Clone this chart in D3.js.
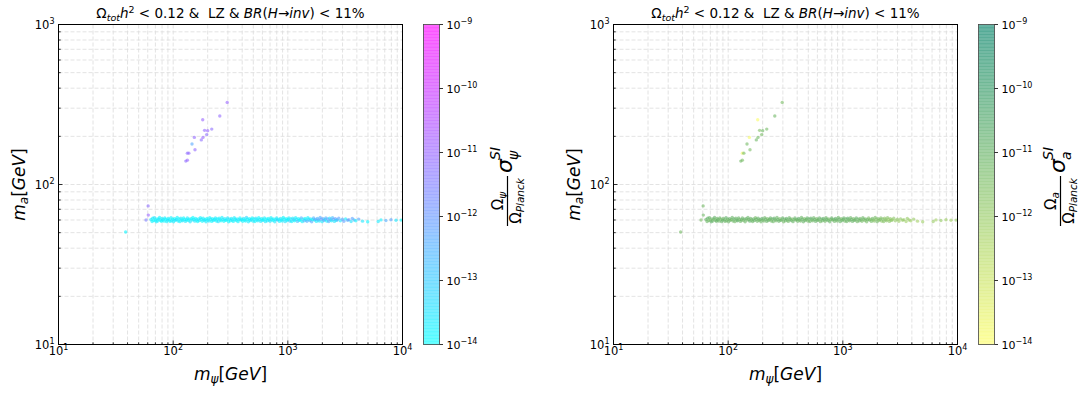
<!DOCTYPE html>
<html>
<head>
<meta charset="utf-8">
<script src="https://cdn.jsdelivr.net/npm/d3@7"></script>
<style>
body { margin: 0; background: #fff; }
text { font-family: "DejaVu Sans", sans-serif; fill: #000; }
</style>
</head>
<body>
<svg id="chart" width="1079" height="393"></svg>
<script>
// rows: [m_psi, m_a, log10 sigma_psi, log10 sigma_a]
var clusterPoints = [
  [296, 326, -11.0, -11.4],
  [255, 268, -11.1, -11.2],
  [181, 254, -11.0, -13.9],
  [217, 222, -11.2, -11.3],
  [188, 218, -11.1, -11.5],
  [200, 217, -11.0, -11.2],
  [196, 205, -11.2, -11.4],
  [153, 197, -11.1, -13.8],
  [182, 197, -11.0, -11.3],
  [176, 190, -11.2, -11.2],
  [146, 179, -12.3, -11.3],
  [155, 165, -11.1, -11.4],
  [133, 157, -11.2, -13.7],
  [137, 157, -11.1, -11.3],
  [129, 140, -11.2, -11.2],
  [133, 142, -11.0, -11.4]
];

var lowPoints = [
  [60.5, 73.5, -11.2, -11.3],
  [60.7, 64.4, -11.0, -11.2],
  [58.0, 60.0, -11.5, -11.4],
  [38.5, 50.5, -13.8, -11.3]
];

var bandPoints = [
  [64,60.4,-13.6,-11.0],[65.5,58.7,-13.8,-11.1],[66.3,61.6,-13.7,-10.9],[67.8,59.5,-13.9,-11.2],
  [68.6,62.1,-13.5,-11.0],[70,60.0,-13.8,-11.3],[71.2,58.4,-13.6,-10.8],[72.5,61.0,-13.9,-11.1],
  [73.4,59.2,-13.7,-11.0],[75,60.8,-13.5,-11.2],[76.1,62.3,-13.8,-10.9],[77.6,59.8,-13.6,-11.1],
  [78.9,58.9,-13.9,-11.0],[80.2,61.3,-13.7,-11.2],[81.5,60.2,-13.5,-10.9],[83.1,59.0,-13.8,-11.1],
  [84.6,61.8,-13.6,-11.0],[86,60.6,-13.9,-11.3],[87.7,58.6,-13.7,-11.0],[89.2,59.9,-13.5,-10.9],
  [90.8,61.4,-13.8,-11.2],[92.3,60.1,-13.6,-11.0],[94,58.8,-13.9,-11.1],[95.8,62.0,-13.7,-10.8],
  [97.3,59.4,-13.5,-11.0],[99,60.7,-13.8,-11.2],[101,58.5,-13.6,-11.1],[102.8,61.2,-13.9,-10.9],
  [104.5,59.7,-13.7,-11.0],[106.6,60.3,-13.4,-11.3],[108.5,62.2,-13.8,-11.0],[110.4,59.1,-13.6,-11.1],
  [112.6,60.9,-13.9,-10.9],[114.5,58.6,-13.7,-11.2],[116.8,61.5,-13.5,-11.0],[119,60.0,-13.8,-11.1],
  [121,59.3,-13.6,-10.8],[123.4,61.9,-13.9,-11.0],[125.7,60.5,-13.7,-11.2],[128,58.8,-13.5,-11.1],
  [130.5,60.2,-13.8,-10.9],[133,61.7,-13.6,-11.0],[135.4,59.6,-13.9,-11.3],[138,60.8,-13.7,-11.0],
  [140.6,58.4,-13.4,-11.1],[143.2,61.1,-13.8,-10.9],[146,59.9,-13.6,-11.2],[148.7,62.2,-13.9,-11.0],
  [151.5,60.4,-13.7,-11.1],[154.4,59.0,-13.5,-10.8],[157.2,61.4,-13.8,-11.0],[160.3,60.1,-13.6,-11.2],
  [163.3,58.7,-13.9,-11.1],[166.4,61.0,-13.7,-10.9],[169.5,59.5,-13.5,-11.0],[172.8,62.0,-13.8,-11.3],
  [176,60.6,-13.6,-11.0],[179.4,58.9,-13.9,-11.1],[182.7,61.6,-13.7,-10.9],[186.2,59.8,-13.4,-11.2],
  [189.8,60.3,-13.8,-11.0],[193.3,58.5,-13.6,-11.1],[197,61.3,-13.9,-10.8],[200.8,60.0,-13.7,-11.0],
  [204.6,59.2,-13.5,-11.2],[208.5,62.1,-13.8,-11.1],[212.4,60.7,-13.6,-10.9],[216.5,58.8,-13.9,-11.0],
  [220.6,61.1,-13.7,-11.3],[224.8,59.6,-13.5,-11.0],[229,60.4,-13.8,-11.1],[233.5,61.8,-13.6,-10.9],
  [238,59.1,-13.9,-11.2],[242.4,60.9,-13.7,-11.0],[247,58.6,-13.4,-11.1],[251.8,61.5,-13.8,-10.8],
  [256.5,60.2,-13.6,-11.0],[261.4,59.4,-13.9,-11.2],[266.4,62.3,-13.7,-11.1],[271.5,60.5,-13.5,-10.9],
  [276.7,58.9,-13.8,-11.0],[282,61.2,-13.6,-11.3],[287.4,59.7,-13.9,-11.0],[293,60.1,-13.7,-11.1],
  [298.6,61.9,-13.5,-10.9],[304.3,58.5,-13.8,-11.2],[310,60.8,-13.6,-11.0],[316,59.3,-13.9,-11.1],
  [322,61.4,-13.7,-10.8],[328.2,60.0,-13.4,-11.0],[334.5,58.8,-13.8,-11.2],[341,62.0,-13.6,-11.1],
  [347.5,60.6,-13.9,-10.9],[354,59.5,-13.7,-11.0],[360.8,61.0,-13.5,-11.3],[367.7,58.6,-13.8,-11.0],
  [374.7,60.3,-13.6,-11.1],[382,61.7,-13.9,-10.9],[389,59.9,-13.7,-11.2],[396.5,60.5,-13.5,-11.0],
  [404,58.9,-13.8,-11.1],[411.8,61.3,-13.6,-10.8],[419.7,60.1,-13.9,-11.0],[427.7,59.2,-13.7,-11.2],
  [435.8,62.2,-13.2,-11.1],[444,60.7,-13.8,-10.9],[452.6,58.5,-13.6,-11.0],[461.3,61.1,-13.9,-11.3],
  [470,59.6,-13.7,-11.0],[479,60.4,-13.5,-11.1],[488,61.8,-13.8,-10.9],[497.5,59.0,-13.6,-11.2],
  [507,60.9,-13.9,-11.0],[516.6,58.7,-13.7,-11.1],[526.5,61.6,-13.4,-10.8],[536.6,60.2,-13.8,-11.0],
  [547,59.4,-13.6,-11.2],[557.4,62.1,-13.9,-11.1],[568,60.5,-13.7,-10.9],[579,58.8,-13.5,-11.0],
  [590,61.2,-13.8,-11.3],[601.4,59.8,-13.6,-11.0],[613,60.0,-13.9,-11.1],[624.7,61.9,-13.7,-10.9],
  [636.6,58.6,-13.5,-11.2],[648.8,60.8,-13.8,-11.0],[661.2,59.3,-13.6,-11.1],[673.9,61.4,-13.9,-10.8],
  [686.8,60.1,-13.7,-11.0],[700,58.9,-13.4,-11.2],[713.4,62.0,-13.8,-11.1],[727,60.6,-13.6,-10.9],
  [741,59.5,-13.9,-11.0],[755,61.0,-13.7,-11.3],[769.6,58.5,-13.5,-11.0],[784.4,60.3,-13.8,-11.1],
  [799.4,61.7,-13.6,-10.9],[814.7,59.9,-12.6,-11.2],[830.3,60.5,-13.9,-11.0],[846.2,58.8,-13.7,-11.1],
  [862.4,61.3,-13.5,-10.8],[879,60.1,-13.8,-11.0],[895.8,59.2,-13.6,-11.2],[913,62.2,-13.9,-11.1],
  [930.4,60.7,-13.7,-10.9],[948.2,58.6,-13.4,-11.0],[966.4,61.1,-13.8,-11.3],[985,59.6,-13.6,-11.0],
  [1004,60.4,-13.9,-11.1],[1023,61.8,-13.7,-10.9],[1043,59.0,-13.0,-11.2],[1063,60.9,-13.5,-11.0],
  [1083,58.7,-13.8,-11.1],[1104,61.6,-13.6,-10.8],[1125,60.2,-12.8,-11.0],[1147,59.4,-13.9,-11.2],
  [1169,62.1,-13.7,-11.1],[1191,60.5,-13.5,-10.9],[1214,58.8,-12.7,-11.0],[1237,61.2,-13.8,-11.3],
  [1261,59.8,-13.6,-11.0],[1285,60.0,-13.9,-11.1],[1310,61.9,-12.5,-10.9],[1335,58.6,-13.7,-11.2],
  [1361,60.8,-13.4,-11.0],[1387,59.3,-12.6,-11.1],[1413,61.4,-13.8,-11.2],[1440,60.1,-13.6,-11.0],
  [1468,58.9,-12.4,-11.3],[1496,62.0,-13.7,-11.1],[1525,60.6,-13.5,-11.2],[1554,59.5,-12.7,-11.4],
  [1584,61.0,-13.6,-11.1],[1614,58.5,-12.3,-11.3],[1645,60.3,-13.9,-11.2],[1677,61.7,-12.5,-11.4],
  [1709,59.9,-13.4,-11.1],[1742,60.5,-12.2,-11.5],[1775,58.8,-13.7,-11.3],[1809,61.3,-12.6,-11.2],
  [1844,60.1,-12.1,-11.4],[1879,59.2,-13.5,-11.6],[1915,62.2,-12.4,-11.3],[1952,60.7,-12.0,-11.5],
  [1990,58.6,-13.6,-11.2],[2028,61.1,-12.3,-11.4],[2067,59.6,-12.2,-11.6],[2107,60.4,-13.3,-11.3],
  [2147,61.8,-12.5,-11.5],[2188,59.0,-13.8,-11.7],[2230,60.9,-12.1,-11.4],[2273,58.7,-12.4,-11.6],
  [2317,61.6,-13.5,-11.8],[2361,60.2,-12.2,-11.5],[2407,59.4,-13.7,-11.7],[2453,62.1,-12.6,-11.6],
  [2500,60.5,-12.3,-11.9],[2548,58.8,-13.4,-11.7],[2597,61.2,-12.0,-11.8],[2647,59.8,-13.6,-11.6],
  [2698,60.0,-12.4,-11.9],[2780,61.5,-12.2,-11.7],[2870,59.4,-13.5,-11.9],[2990,60.6,-12.3,-11.8],
  [3080,58.9,-12.1,-12.0],[3190,61.0,-13.6,-11.8],[3320,59.7,-12.5,-12.0],[3400,60.3,-12.0,-11.9],
  [3560,58.7,-13.4,-12.1],[3650,61.4,-12.2,-11.9],[3780,60.0,-12.6,-12.0],[3920,59.3,-13.7,-12.1],
  [4150,60.8,-12.3,-12.0],[4480,59.0,-13.5,-12.2],[4970,58.5,-13.8,-12.1],[6140,58.7,-13.6,-12.0],
  [6490,60.1,-13.7,-12.2],[7170,59.6,-12.4,-11.9],[7940,60.2,-12.2,-12.1],[8780,59.8,-13.5,-12.2],
  [9710,59.9,-13.9,-12.0]
];

var xMajor = [10, 100, 1000, 10000];
var yMajor = [10, 100, 1000];
var cbExps = [-14, -13, -12, -11, -10, -9];

var svg = d3.select('#chart');
var top0 = 24.5, bot0 = 344.5;

function pow10(sel, e, sz) {
  sel.append('tspan').text('10');
  sel.append('tspan').attr('dy', -5).attr('font-size', sz + 'px')
    .text(e < 0 ? '\u2212' + (-e) : e);
}

function drawPanel(p) {
  var g = svg.append('g');
  var x = d3.scaleLog().domain([10, 1e4]).range([p.left, p.right]);
  var y = d3.scaleLog().domain([10, 1000]).range([bot0, top0]);
  var col = d3.scaleLinear().domain([-14, -9]).range([p.lo, p.hi])
    .interpolate(d3.interpolateRgb).clamp(true);

  // grid
  x.ticks().forEach(function(t) {
    if (t <= 10 || t >= 1e4) return;
    g.append('line').attr('x1', x(t)).attr('x2', x(t)).attr('y1', top0).attr('y2', bot0)
      .attr('stroke', '#dcdcdc').attr('stroke-width', 0.8).attr('stroke-dasharray', '4,2');
  });
  y.ticks().forEach(function(t) {
    if (t <= 10 || t >= 1000) return;
    g.append('line').attr('x1', p.left).attr('x2', p.right).attr('y1', y(t)).attr('y2', y(t))
      .attr('stroke', '#dcdcdc').attr('stroke-width', 0.8).attr('stroke-dasharray', '4,2');
  });

  // points
  var all = bandPoints.concat(lowPoints, clusterPoints);
  g.selectAll('circle.pt').data(all).enter().append('circle')
    .attr('cx', function(d) { return x(d[0]); })
    .attr('cy', function(d) { return y(d[1]); })
    .attr('r', 1.7)
    .attr('fill', function(d) { return col(d[p.key]); })
    .attr('fill-opacity', 0.6);

  // frame
  g.append('rect').attr('x', p.left).attr('y', top0).attr('width', p.right - p.left)
    .attr('height', bot0 - top0).attr('fill', 'none').attr('stroke', '#000').attr('stroke-width', 1);

  // inward ticks
  x.ticks().forEach(function(t) {
    var major = xMajor.indexOf(t) >= 0;
    g.append('line').attr('x1', x(t)).attr('x2', x(t)).attr('y1', bot0).attr('y2', bot0 - (major ? 4 : 2.2))
      .attr('stroke', '#000').attr('stroke-width', 0.8);
  });
  y.ticks().forEach(function(t) {
    var major = yMajor.indexOf(t) >= 0;
    g.append('line').attr('x1', p.left).attr('x2', p.left + (major ? 4 : 2.2)).attr('y1', y(t)).attr('y2', y(t))
      .attr('stroke', '#000').attr('stroke-width', 0.8);
  });

  xMajor.forEach(function(t) {
    var tx = g.append('text').attr('x', x(t)).attr('y', bot0 + 10.5).attr('text-anchor', 'middle')
      .attr('font-size', '11.5px');
    pow10(tx, Math.round(Math.log10(t)), 8);
  });
  yMajor.forEach(function(t) {
    var tx = g.append('text').attr('x', p.left - 4).attr('y', y(t) + 4).attr('text-anchor', 'end')
      .attr('font-size', '11.5px');
    pow10(tx, Math.round(Math.log10(t)), 8);
  });

  // axis labels
  var xl = g.append('text').attr('x', (p.left + p.right) / 2).attr('y', 380)
    .attr('text-anchor', 'middle').attr('font-size', '17px');
  xl.append('tspan').attr('font-style', 'italic').text('m');
  xl.append('tspan').attr('font-style', 'italic').attr('font-size', '12px').attr('dy', 3).text('\u03c8');
  xl.append('tspan').attr('dy', -3).text('[');
  xl.append('tspan').attr('font-style', 'italic').text('GeV');
  xl.append('tspan').text(']');

  var yl = g.append('text').attr('transform', 'translate(' + (p.left - 34) + ',184.5) rotate(-90)')
    .attr('text-anchor', 'middle').attr('font-size', '17px');
  yl.append('tspan').attr('font-style', 'italic').text('m');
  yl.append('tspan').attr('font-style', 'italic').attr('font-size', '12px').attr('dy', 3).text('a');
  yl.append('tspan').attr('dy', -3).text('[');
  yl.append('tspan').attr('font-style', 'italic').text('GeV');
  yl.append('tspan').text(']');

  // title
  var tt = g.append('text').attr('x', (p.left + p.right) / 2).attr('y', 18)
    .attr('text-anchor', 'middle').attr('font-size', '13.5px');
  tt.append('tspan').text('\u03a9');
  tt.append('tspan').attr('font-style', 'italic').attr('font-size', '9.5px').attr('dy', 2.5).text('tot');
  tt.append('tspan').attr('font-style', 'italic').attr('dy', -2.5).text('h');
  tt.append('tspan').attr('font-size', '9.5px').attr('dy', -5).text('2');
  tt.append('tspan').attr('dy', 5).text(' < 0.12 &\u00a0 LZ & ');
  tt.append('tspan').attr('font-style', 'italic').text('BR');
  tt.append('tspan').text('(');
  tt.append('tspan').attr('font-style', 'italic').text('H');
  tt.append('tspan').text('\u2192');
  tt.append('tspan').attr('font-style', 'italic').text('inv');
  tt.append('tspan').text(') < 11%');

  // colorbar
  var cy = d3.scaleLinear().domain([-14, -9]).range([bot0, top0]);
  var steps = d3.range(0, 100);
  g.selectAll('rect.cb').data(steps).enter().append('rect')
    .attr('x', p.cb).attr('width', 16)
    .attr('y', function(i) { return cy(-14 + (i + 1) * 0.05); })
    .attr('height', function(i) { return cy(-14 + i * 0.05) - cy(-14 + (i + 1) * 0.05) + 0.4; })
    .attr('fill', function(i) { return col(-14 + (i + 0.5) * 0.05); })
    .attr('fill-opacity', 0.6);
  g.append('rect').attr('x', p.cb).attr('y', top0).attr('width', 16).attr('height', bot0 - top0)
    .attr('fill', 'none').attr('stroke', '#444').attr('stroke-width', 0.8);
  cbExps.forEach(function(e) {
    g.append('line').attr('x1', p.cb + 16).attr('x2', p.cb + 19.5).attr('y1', cy(e)).attr('y2', cy(e))
      .attr('stroke', '#000').attr('stroke-width', 0.8);
    var tx = g.append('text').attr('x', p.cb + 23).attr('y', cy(e) + 4).attr('font-size', '11px');
    pow10(tx, e, 8);
  });

  // colorbar label
  var lg = g.append('g').attr('transform', 'translate(' + p.lab + ',185) rotate(-90)');
  var num = lg.append('text').attr('x', -16).attr('y', -5).attr('text-anchor', 'middle').attr('font-size', '15px');
  num.append('tspan').text('\u03a9');
  num.append('tspan').attr('font-style', 'italic').attr('font-size', '10.5px').attr('dy', 3).text(p.sub);
  var den = lg.append('text').attr('x', -16).attr('y', 13).attr('text-anchor', 'middle').attr('font-size', '15px');
  den.append('tspan').text('\u03a9');
  den.append('tspan').attr('font-style', 'italic').attr('font-size', '10.5px').attr('dy', 3).text('Planck');
  lg.append('line').attr('x1', -41).attr('x2', 9).attr('y1', -0.5).attr('y2', -0.5)
    .attr('stroke', '#000').attr('stroke-width', 1.2);
  lg.append('text').attr('x', 12).attr('y', 4).attr('font-size', '22px').attr('font-style', 'italic').text('\u03c3');
  lg.append('text').attr('x', 25).attr('y', -8).attr('font-size', '14px').attr('font-style', 'italic').text('SI');
  lg.append('text').attr('x', 25).attr('y', 10).attr('font-size', '14px').attr('font-style', 'italic').text(p.sub);
}

drawPanel({ left: 58.5, right: 402.5, cb: 423.5, lab: 508, key: 2, sub: '\u03c8',
  lo: 'rgb(0,255,255)', hi: 'rgb(255,0,255)' });
drawPanel({ left: 613.5, right: 957.5, cb: 978.5, lab: 1061, key: 3, sub: 'a',
  lo: 'rgb(255,255,102)', hi: 'rgb(0,128,102)' });
</script>
</body>
</html>
